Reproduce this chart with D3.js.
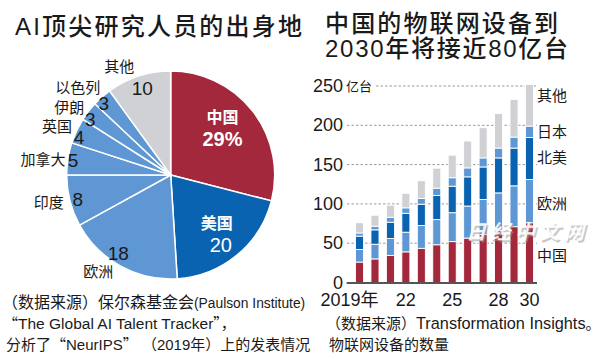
<!DOCTYPE html>
<html><head><meta charset="utf-8">
<script src="https://cdn.jsdelivr.net/npm/d3@7"></script>
<style>
body{margin:0;background:#fff;}
svg{display:block;font-family:"Liberation Sans","Noto Sans CJK SC",sans-serif;}
</style></head><body>
<svg id="c" width="600" height="359"></svg>
<script>
// ---- Pie data ----
const pieNames  = ["中国","美国","欧洲","印度","加拿大","英国","伊朗","以色列","其他"];
const pieValues = [29, 20, 18, 8, 5, 4, 3, 3, 10];
const pieLabels = ["29%","20","18","8","5","4","3","3","10"];

// ---- Bar data ----
const years = [2019,2020,2021,2022,2023,2024,2025,2026,2027,2028,2029,2030];
const yearLabels = ["2019年","","","22","","","25","","","28","","30"];
const seriesNames = ["中国","欧洲","北美","日本","其他"];
const china  = [26,30,34.5,39,43.5,48,52,56.5,61,66,71,76];
const europe = [16,18.7,21.5,25,29,32,36.8,40.8,44.6,48,52,55];
const northAmerica = [17,18.3,20.7,24,27.1,30.6,33.7,37.1,41.4,44.5,48,53.5];
const japan  = [4,4.6,6.3,7,7.4,9.4,10.8,11.4,11.5,12.5,14,14.5];
const others = [13,14,15.3,18.5,22.5,25.5,28.7,34.2,38.5,44,48,53];
const yTicks = [0,50,100,150,200,250];

const RED="#a3283b", DBLUE="#0a63b0", LBLUE="#5e97d3", GRAY="#d0d1d4", TXT="#1a1a1a";
const CJK='"Noto Sans CJK SC",sans-serif';
const svg = d3.select("#c");

// ---------- Titles ----------
function title(x,y,txt,len){
  svg.append("text").attr("x",x).attr("y",y).attr("font-size",24).attr("font-weight",500)
    .attr("fill",TXT).attr("textLength",len).attr("lengthAdjust","spacing").text(txt);
}
title(15,35,"AI顶尖研究人员的出身地",287);
title(325,32,"中国的物联网设备到",233);
title(325,57,"2030年将接近80亿台",243);

// ---------- Pie ----------
const cx=170.7, cy=175, R=104;
const pieColors=[RED,DBLUE,LBLUE,LBLUE,LBLUE,LBLUE,LBLUE,LBLUE,GRAY];
const pie = d3.pie().sort(null).value(d=>d)(pieValues);
const arc = d3.arc().innerRadius(0).outerRadius(R);
const pg = svg.append("g").attr("transform",`translate(${cx},${cy})`);
pg.selectAll("path").data(pie).join("path").attr("d",arc)
  .attr("fill",(d,i)=>pieColors[i]).attr("stroke","#fff").attr("stroke-width",1.5);

function polar(a,r){return [Math.sin(a)*r,-Math.cos(a)*r];}
const numR   = [70,77,94,96,99,99,98,98,92];
const angAdj = [-0.08,0,0.09,0,0,-0.05,-0.05,-0.03,0];
const nameOff = [null,null,[-20,24,"middle"],[-14,9,"end"],[-7.5,5,"end"],[-7,-5,"end"],[-6,-6,"end"],[-3.5,-10,"end"],[-23,-16,"middle"]];
pie.forEach((d,i)=>{
  const a=(d.startAngle+d.endAngle)/2+angAdj[i];
  const [x,y]=polar(a,numR[i]);
  if(i===0){
    pg.append("text").attr("x",x).attr("y",y-5).attr("text-anchor","middle").attr("font-size",16)
      .attr("font-weight","bold").attr("fill","#fff").text(pieNames[i]);
    pg.append("text").attr("x",x).attr("y",y+18).attr("text-anchor","middle").attr("font-size",20)
      .attr("font-weight","bold").attr("fill","#fff").text(pieLabels[i]);
  } else if(i===1){
    pg.append("text").attr("x",x-3).attr("y",y-5).attr("text-anchor","middle").attr("font-size",16)
      .attr("font-weight","bold").attr("fill","#fff").text(pieNames[i]);
    pg.append("text").attr("x",x+1).attr("y",y+18).attr("text-anchor","middle").attr("font-size",20)
      .attr("fill","#fff").text(pieLabels[i]);
  } else {
    pg.append("text").attr("x",x).attr("y",y+7).attr("text-anchor","middle").attr("font-size",19)
      .attr("fill",TXT).text(pieLabels[i]);
    const o=nameOff[i];
    pg.append("text").attr("x",x+o[0]).attr("y",y+o[1]).attr("text-anchor",o[2]).attr("font-size",15)
      .attr("fill",TXT).text(pieNames[i]);
  }
});

// ---------- Stacked bars ----------
const rows = years.map((y,i)=>({year:y,"中国":china[i],"欧洲":europe[i],"北美":northAmerica[i],"日本":japan[i],"其他":others[i]}));
const stack = d3.stack().keys(seriesNames)(rows);
const x = d3.scaleBand().domain(years).range([351.8,537.2]).paddingInner(0.48).paddingOuter(0.24);
const y = d3.scaleLinear().domain([0,250]).range([282.5,86]);
const barColors = {"中国":RED,"欧洲":LBLUE,"北美":DBLUE,"日本":LBLUE,"其他":GRAY};

const gg = svg.append("g");
yTicks.filter(t=>t>0).forEach(t=>{
  gg.append("line").attr("x1",t===250?376:347).attr("x2",537).attr("y1",y(t)).attr("y2",y(t))
    .attr("stroke","#9a9a9a").attr("stroke-width",1).attr("stroke-dasharray","2.5,2");
});
svg.append("g").selectAll("text").data(yTicks).join("text")
  .attr("x",343).attr("y",t=>y(t)+6).attr("text-anchor","end").attr("font-size",18)
  .attr("fill",TXT).text(t=>t);
svg.append("text").attr("x",346).attr("y",y(250)+5).attr("font-size",13).attr("fill",TXT).text("亿台");

const bg = svg.append("g");
stack.forEach(s=>{
  bg.selectAll(null).data(s).join("rect")
    .attr("x",d=>x(d.data.year)).attr("width",x.bandwidth())
    .attr("y",d=>y(d[1])).attr("height",d=>Math.max(0,y(d[0])-y(d[1])))
    .attr("fill",barColors[s.key]).attr("stroke","#fff").attr("stroke-width",0.9);
});
svg.append("line").attr("x1",346.7).attr("x2",537).attr("y1",y(0)+0.5).attr("y2",y(0)+0.5)
  .attr("stroke","#555").attr("stroke-width",2);

svg.append("g").selectAll("text").data(years).join("text")
  .attr("x",(d,i)=>i===0? x(d)+x.bandwidth()+15 : x(d)+x.bandwidth()/2)
  .attr("y",306).attr("text-anchor",(d,i)=>i===0?"end":"middle").attr("font-size",18)
  .attr("fill",TXT).text((d,i)=>yearLabels[i]);

const seriesLabelY = {"其他":101,"日本":137,"北美":163,"欧洲":209,"中国":261};
seriesNames.forEach(k=>{
  svg.append("text").attr("x",537).attr("y",seriesLabelY[k]).attr("font-size",15)
    .attr("fill",TXT).text(k);
});

// watermark
[["#9a9a9a",1.5,0.55],["#ffffff",0,0.9]].forEach(([c,off,op])=>{
  svg.append("text").attr("x",466+off).attr("y",239+off).attr("font-size",20).attr("font-weight","bold")
    .attr("font-style","italic").attr("fill",c).attr("opacity",op)
    .attr("textLength",118).attr("lengthAdjust","spacing").text("日经中文网");
});

// ---------- Sources ----------
const src = svg.append("g").attr("fill",TXT);
function srcLine(x0,y0,parts){
  const t=src.append("text").attr("x",x0).attr("y",y0).attr("font-size",15);
  parts.forEach(p=>{
    const ts=t.append("tspan").text(p[0]);
    if(p[1]) ts.attr("font-family",CJK);
    if(p[2]) ts.attr("font-size",p[2]);
  });
}
srcLine(2,308,[["（数据来源）保尔森基金会",0,16],["(Paulson Institute)",0,13.8]]);
srcLine(3,329,[["“",1],["The Global AI Talent Tracker",0,15.5],["”，",1]]);
srcLine(6,349.5,[["分析了"],["“",1],["NeurIPS"],["”",1],[" （2019年）上的发表情况"]]);
srcLine(326,329,[["（数据来源）"],["Transformation Insights",0,16.3],["。",1]]);
srcLine(329,349.5,[["物联网设备的数量"]]);
</script>
</body></html>
